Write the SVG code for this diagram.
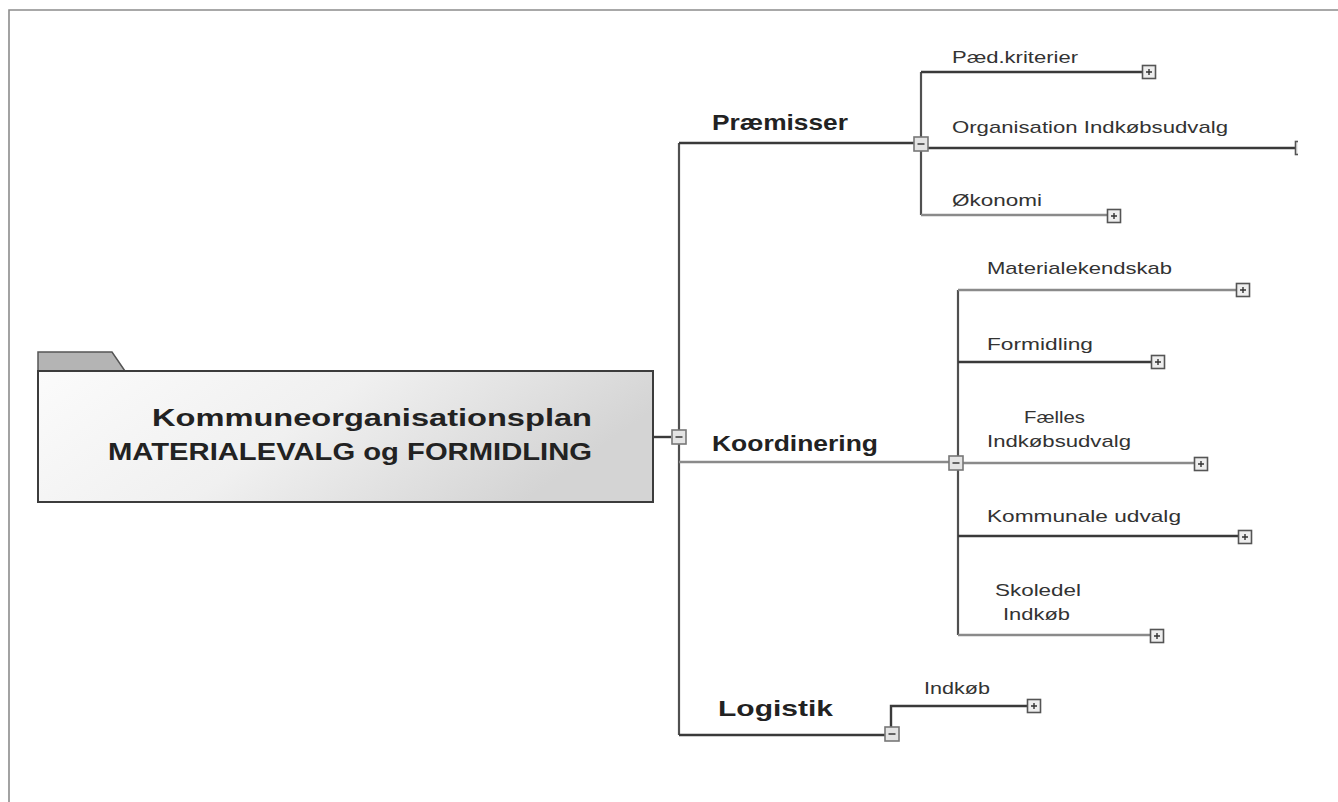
<svg xmlns="http://www.w3.org/2000/svg" width="1338" height="802" viewBox="0 0 1338 802">
<defs>
<linearGradient id="rootGrad" x1="0" y1="0" x2="1" y2="0.3">
<stop offset="0" stop-color="#fbfbfb"/>
<stop offset="0.5" stop-color="#f0f0f0"/>
<stop offset="1" stop-color="#d4d4d4"/>
</linearGradient>
<clipPath id="cut"><rect x="0" y="0" width="1298" height="802"/></clipPath>
<g id="plus">
<rect x="-6.5" y="-6.5" width="13" height="13" fill="#eeeeee" stroke="#555" stroke-width="1.6"/>
<path d="M-3 0H3M0 -3V3" stroke="#333" stroke-width="1.4"/>
</g>
<g id="minus">
<rect x="-7" y="-7" width="14" height="14" fill="#e4e4e4" stroke="#777" stroke-width="1.6"/>
<path d="M-3.5 0H3.5" stroke="#444" stroke-width="1.6"/>
</g>
</defs>
<style>
.dk{stroke:#3a3a3a;stroke-width:2.4;fill:none}
.gr{stroke:#8a8a8a;stroke-width:2.3;fill:none}
.vt{stroke:#505050;stroke-width:2.2;fill:none}
.lbl{font-family:"Liberation Sans",Arial,sans-serif;font-size:17px;fill:#333}
.big{font-family:"Liberation Sans",Arial,sans-serif;font-size:22px;font-weight:bold;fill:#222}
.root{font-family:"Liberation Sans",Arial,sans-serif;font-size:23px;font-weight:bold;fill:#222;text-anchor:middle}
</style>
<rect width="1338" height="802" fill="#ffffff"/>
<path d="M9 802V10H1338" fill="none" stroke="#8c8c8c" stroke-width="1.6"/>

<g id="connectors">
<path class="dk" d="M653 437H671"/>
<path class="vt" d="M679 143V735"/>
<path class="dk" d="M679 143H914"/>
<path class="gr" d="M679 462H949"/>
<path class="dk" d="M679 735H886"/>
<path class="vt" d="M921 72V215"/>
<path class="dk" d="M921 72H1143"/>
<path class="dk" d="M928 148H1296"/>
<path class="gr" d="M921 215H1108"/>
<path class="vt" d="M958 290V635"/>
<path class="gr" d="M958 290H1237"/>
<path class="dk" d="M958 362H1152"/>
<path class="gr" d="M963 463H1195"/>
<path class="dk" d="M958 536H1239"/>
<path class="gr" d="M958 635H1151"/>
<path class="dk" d="M891 727V706H1028"/>
</g>

<g id="root">
<path d="M38 371V352H112L125 371Z" fill="#b4b4b4" stroke="#555" stroke-width="1.5"/>
<rect x="38" y="371" width="615" height="131" fill="url(#rootGrad)" stroke="#3c3c3c" stroke-width="2"/>
<text class="root" x="372" y="426" textLength="440" lengthAdjust="spacingAndGlyphs">Kommuneorganisationsplan</text>
<text class="root" x="350" y="460" textLength="484" lengthAdjust="spacingAndGlyphs">MATERIALEVALG og FORMIDLING</text>
<use href="#minus" x="679" y="437"/>
</g>

<g id="praemisser">
<text class="big" x="712" y="130" textLength="136" lengthAdjust="spacingAndGlyphs">Præmisser</text>
<use href="#minus" x="921" y="144"/>
</g>
<g id="paed">
<text class="lbl" x="952" y="63" textLength="126" lengthAdjust="spacingAndGlyphs">Pæd.kriterier</text>
<use href="#plus" x="1149" y="72"/>
</g>
<g id="organisation">
<text class="lbl" x="952" y="133" textLength="276" lengthAdjust="spacingAndGlyphs">Organisation Indkøbsudvalg</text>
<g clip-path="url(#cut)"><use href="#plus" x="1302" y="148"/></g>
</g>
<g id="okonomi">
<text class="lbl" x="952" y="206" textLength="90" lengthAdjust="spacingAndGlyphs">Økonomi</text>
<use href="#plus" x="1114" y="216"/>
</g>

<g id="koordinering">
<text class="big" x="712" y="451" textLength="166" lengthAdjust="spacingAndGlyphs">Koordinering</text>
<use href="#minus" x="956" y="463"/>
</g>
<g id="materialekendskab">
<text class="lbl" x="987" y="274" textLength="185" lengthAdjust="spacingAndGlyphs">Materialekendskab</text>
<use href="#plus" x="1243" y="290"/>
</g>
<g id="formidling">
<text class="lbl" x="987" y="350" textLength="106" lengthAdjust="spacingAndGlyphs">Formidling</text>
<use href="#plus" x="1158" y="362"/>
</g>
<g id="faelles">
<text class="lbl" x="1024" y="423" textLength="61" lengthAdjust="spacingAndGlyphs">Fælles</text>
<text class="lbl" x="987" y="447" textLength="144" lengthAdjust="spacingAndGlyphs">Indkøbsudvalg</text>
<use href="#plus" x="1201" y="464"/>
</g>
<g id="kommunale">
<text class="lbl" x="987" y="522" textLength="194" lengthAdjust="spacingAndGlyphs">Kommunale udvalg</text>
<use href="#plus" x="1245" y="537"/>
</g>
<g id="skoledel">
<text class="lbl" x="995" y="596" textLength="86" lengthAdjust="spacingAndGlyphs">Skoledel</text>
<text class="lbl" x="1003" y="620" textLength="67" lengthAdjust="spacingAndGlyphs">Indkøb</text>
<use href="#plus" x="1157" y="636"/>
</g>

<g id="logistik">
<text class="big" x="718" y="716" textLength="115" lengthAdjust="spacingAndGlyphs">Logistik</text>
<use href="#minus" x="892" y="734"/>
</g>
<g id="indkob">
<text class="lbl" x="924" y="694" textLength="66" lengthAdjust="spacingAndGlyphs">Indkøb</text>
<use href="#plus" x="1034" y="706"/>
</g>
</svg>
